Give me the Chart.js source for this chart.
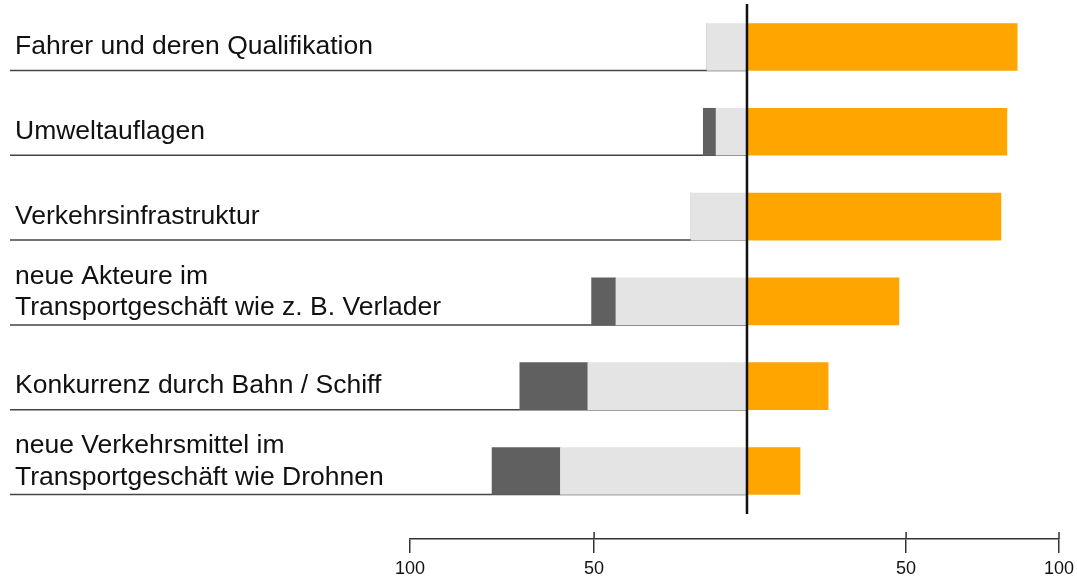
<!DOCTYPE html>
<html>
<head>
<meta charset="utf-8">
<script src="https://cdn.jsdelivr.net/npm/chart.js@4.4.1/dist/chart.umd.min.js"></script>
<style>
  html, body { margin: 0; padding: 0; background: #ffffff; }
  #wrap { width: 1077px; height: 577px; }
</style>
</head>
<body>
<div id="wrap"><canvas id="c" width="1077" height="577"></canvas></div>
<script>
// ---- data ----
const categories = [
  "Fahrer und deren Qualifikation",
  "Umweltauflagen",
  "Verkehrsinfrastruktur",
  "neue Akteure im\nTransportgeschäft wie z. B. Verlader",
  "Konkurrenz durch Bahn / Schiff",
  "neue Verkehrsmittel im\nTransportgeschäft wie Drohnen"
];
const lightValues  = [12.8, 9.9, 17.9, 42.0, 51.0, 59.8];   // drawn to the left
const darkValues   = [0, 4.1, 0, 7.8, 21.8, 21.9];          // drawn further left
const orangeValues = [86.6, 83.3, 81.4, 48.7, 26.0, 17.0];  // drawn to the right
const tickValues = [-108, -49, 51, 100];
const tickLabels = ["100", "50", "50", "100"];

const FONT = "'Liberation Sans', Arial, Helvetica, sans-serif";
const BAR_T = 47;

const rowsPlugin = {
  id: 'rows',
  beforeDatasetsDraw(chart) {
    const ctx = chart.ctx, x = chart.scales.x, y = chart.scales.y;
    const x0 = x.getPixelForValue(0);
    ctx.save();
    categories.forEach((label, i) => {
      const bottom = y.getPixelForValue(i) + BAR_T / 2;
      ctx.strokeStyle = '#444444';
      ctx.lineWidth = 1.5;
      ctx.beginPath();
      ctx.moveTo(10, bottom);
      ctx.lineTo(x0, bottom);
      ctx.stroke();
      const lines = label.split('\n');
      ctx.fillStyle = '#111111';
      ctx.font = '26.5px ' + FONT;
      ctx.textAlign = 'left';
      ctx.textBaseline = 'alphabetic';
      if (lines.length === 1) {
        ctx.fillText(lines[0], 15, bottom - 16.5);
      } else {
        ctx.fillText(lines[1], 15, bottom - 9.5);
        ctx.fillText(lines[0], 15, bottom - 41);
      }
    });
    ctx.restore();
  },
  afterDatasetsDraw(chart) {
    const ctx = chart.ctx, x = chart.scales.x;
    const x0 = x.getPixelForValue(0);
    ctx.save();
    ctx.strokeStyle = '#111111';
    ctx.lineWidth = 2.5;
    ctx.beginPath();
    ctx.moveTo(x0, 4);
    ctx.lineTo(x0, 514);
    ctx.stroke();
    // small tick stubs above axis line
    const axisY = chart.chartArea.bottom;
    ctx.strokeStyle = '#333333';
    ctx.lineWidth = 1.5;
    x.ticks.forEach((t, i) => {
      if (i === 0) return;
      const px = x.getPixelForValue(t.value);
      ctx.beginPath();
      ctx.moveTo(px, axisY);
      ctx.lineTo(px, axisY - 7);
      ctx.stroke();
    });
    ctx.restore();
  }
};

const toPts = (arr, sign) => arr.map((v, i) => ({ x: sign * v, y: i }));

new Chart(document.getElementById('c'), {
  type: 'bar',
  data: {
    datasets: [
      { label: 'light', data: toPts(lightValues, -1), backgroundColor: '#e4e4e4', barThickness: BAR_T },
      { label: 'dark', data: toPts(darkValues, -1), backgroundColor: '#606060', barThickness: BAR_T },
      { label: 'orange', data: toPts(orangeValues, 1), backgroundColor: '#ffa500', barThickness: BAR_T }
    ]
  },
  options: {
    indexAxis: 'y',
    responsive: false,
    animation: false,
    events: [],
    layout: { padding: { left: 410, right: 18, top: 0, bottom: 0 } },
    plugins: { legend: { display: false }, tooltip: { enabled: false } },
    scales: {
      y: {
        type: 'linear',
        reverse: true,
        stacked: true,
        offset: false,
        min: -0.554,
        max: 5.802,
        display: false
      },
      x: {
        type: 'linear',
        stacked: true,
        min: -108,
        max: 100,
        position: 'bottom',
        afterBuildTicks: (scale) => { scale.ticks = tickValues.map(v => ({ value: v })); },
        afterFit: (scale) => { scale.height = 38; scale.paddingLeft = 0; scale.paddingRight = 0; },
        border: { display: true, color: '#333333', width: 1.5 },
        grid: { display: true, drawOnChartArea: false, drawTicks: true, tickLength: 14, color: '#333333', lineWidth: 1.5 },
        ticks: {
          autoSkip: false,
          maxRotation: 0,
          padding: 5,
          color: '#111111',
          font: { family: FONT, size: 18 },
          callback: (value, index) => tickLabels[index]
        }
      }
    }
  },
  plugins: [rowsPlugin]
});
</script>
</body>
</html>
